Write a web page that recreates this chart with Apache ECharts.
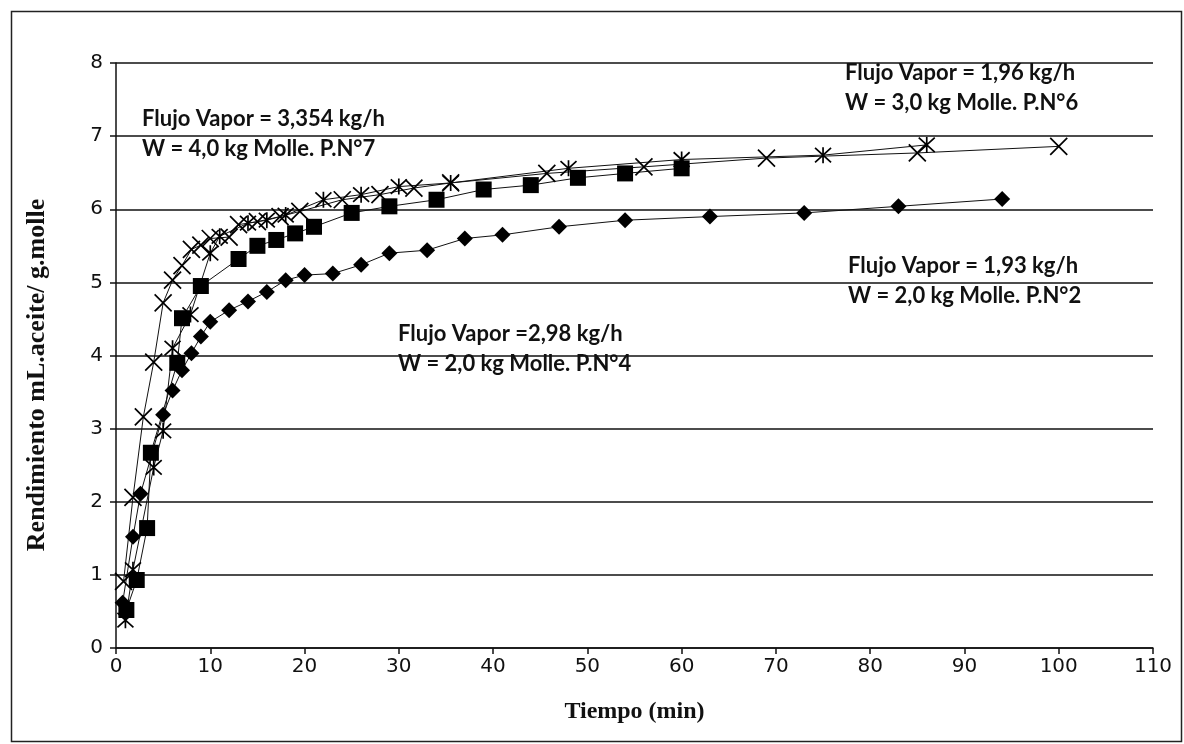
<!DOCTYPE html>
<html>
<head>
<meta charset="utf-8">
<script src="https://cdn.jsdelivr.net/npm/echarts@6/dist/echarts.min.js"></script>
<style>
  html, body { margin: 0; padding: 0; background: #fff; }
  #chart { width: 1184px; height: 744px; }
</style>
</head>
<body>
<div id="chart"></div>
<script>
// Rendimiento de aceite de molle frente al tiempo de destilación

// P.N°4 (rombos)
const tiempoPN4 = [0.7, 1.8, 2.6, 5, 6, 7, 8, 9, 10, 12, 14, 16, 18, 20, 23, 26, 29, 33, 37, 41, 47, 54, 63, 73, 83, 94];
const rendPN4   = [0.62, 1.52, 2.11, 3.19, 3.52, 3.8, 4.03, 4.26, 4.46, 4.62, 4.74, 4.87, 5.03, 5.1, 5.12, 5.24, 5.4, 5.44, 5.6, 5.65, 5.76, 5.85, 5.9, 5.95, 6.04, 6.14];

// P.N°2 (cuadrados)
const tiempoPN2 = [1.1, 2.2, 3.3, 3.7, 6.5, 7, 9, 13, 15, 17, 19, 21, 25, 29, 34, 39, 44, 49, 54, 60];
const rendPN2   = [0.52, 0.93, 1.64, 2.67, 3.9, 4.51, 4.95, 5.32, 5.5, 5.58, 5.67, 5.76, 5.95, 6.04, 6.13, 6.27, 6.33, 6.43, 6.49, 6.56];

// P.N°7 (aspas)
const tiempoPN7 = [0.8, 1.8, 2.9, 4, 5, 6, 7, 8, 9, 10, 12, 13, 15, 17.4, 19.5, 24, 28, 31.6, 35.5, 45.7, 56, 69, 85, 100];
const rendPN7   = [0.91, 2.06, 3.16, 3.91, 4.72, 5.03, 5.23, 5.45, 5.51, 5.6, 5.62, 5.79, 5.83, 5.9, 5.97, 6.13, 6.2, 6.29, 6.36, 6.49, 6.58, 6.7, 6.77, 6.86];

// P.N°6 (asteriscos)
const tiempoPN6 = [1, 1.8, 4, 5, 6, 7.9, 10, 11, 14, 16, 18, 22, 26, 30, 35.5, 48, 60, 75, 86];
const rendPN6   = [0.38, 1.07, 2.47, 2.97, 4.1, 4.56, 5.4, 5.63, 5.81, 5.85, 5.92, 6.13, 6.2, 6.31, 6.36, 6.56, 6.68, 6.74, 6.88];

// Marcas de los ejes
const ticksX = [0, 10, 20, 30, 40, 50, 60, 70, 80, 90, 100, 110];
const ticksY = [0, 1, 2, 3, 4, 5, 6, 7, 8];

// Títulos de los ejes
const tituloX = 'Tiempo (min)';
const tituloY = 'Rendimiento mL.aceite/ g.molle';

// Rótulos de cada ensayo
const rotulos = [
  { linea1: 'Flujo Vapor = 3,354 kg/h', linea2: 'W = 4,0 kg Molle. P.N°7', x: 142, y: 120 },
  { linea1: 'Flujo Vapor = 1,96 kg/h',  linea2: 'W = 3,0 kg Molle. P.N°6', x: 845, y: 74 },
  { linea1: 'Flujo Vapor = 1,93 kg/h',  linea2: 'W = 2,0 kg Molle. P.N°2', x: 848, y: 267 },
  { linea1: 'Flujo Vapor =2,98 kg/h',   linea2: 'W = 2,0 kg Molle. P.N°4', x: 398, y: 335 }
];

const pares = (xs, ys) => xs.map((x, i) => [x, ys[i]]);

const SYM_X = 'path://M0,0L20,20M20,0L0,20';
const SYM_AST = 'path://M0,0L20,20M20,0L0,20M10,-1L10,21';

const chart = echarts.init(document.getElementById('chart'), null, { renderer: 'canvas' });

function serie(nombre, datos, simbolo, tam, trazo) {
  return {
    name: nombre,
    type: 'line',
    data: datos,
    symbol: simbolo,
    symbolSize: tam,
    showAllSymbol: true,
    lineStyle: { color: '#111', width: 1 },
    itemStyle: trazo
      ? { color: 'rgba(0,0,0,0)', borderColor: '#000', borderWidth: 1.7 }
      : { color: '#000', borderColor: '#000', borderWidth: 0 },
    emphasis: { disabled: true },
    animation: false,
    z: 3
  };
}

const textos = [];
rotulos.forEach(r => {
  textos.push({
    type: 'text', left: r.x, top: r.y - 12,
    style: { text: r.linea1, font: 'bold 22px Lato', fill: '#111' }, z: 10
  });
  textos.push({
    type: 'text', left: r.x, top: r.y + 18,
    style: { text: r.linea2, font: 'bold 22px Lato', fill: '#111' }, z: 10
  });
});

// Título vertical del eje Y, centrado algo más abajo que el eje
textos.push({
  type: 'text', x: 37, y: 375, rotation: Math.PI / 2,
  style: {
    text: tituloY, font: 'bold 26px "Liberation Serif"', fill: '#111',
    align: 'center', verticalAlign: 'middle'
  },
  z: 10
});

chart.setOption({
  backgroundColor: '#fff',
  animation: false,
  grid: { left: 116, right: 31, top: 63, bottom: 96, containLabel: false },
  xAxis: {
    type: 'value',
    min: ticksX[0], max: ticksX[ticksX.length - 1], interval: 10,
    name: tituloX, nameLocation: 'middle', nameGap: 52,
    nameTextStyle: { fontFamily: 'Liberation Serif', fontWeight: 'bold', fontSize: 24, color: '#111' },
    axisLine: { show: true, onZero: false, lineStyle: { color: '#111', width: 1.5 } },
    axisTick: { show: true, inside: false, length: 6, lineStyle: { color: '#111', width: 1.5 } },
    axisLabel: { fontFamily: 'DejaVu Sans', fontSize: 20, color: '#111', margin: 9 },
    splitLine: { show: false }
  },
  yAxis: {
    type: 'value',
    min: ticksY[0], max: ticksY[ticksY.length - 1], interval: 1,
    axisLine: { show: true, lineStyle: { color: '#111', width: 1.5 } },
    axisTick: { show: true, inside: false, length: 6, lineStyle: { color: '#111', width: 1.5 } },
    axisLabel: { fontFamily: 'DejaVu Sans', fontSize: 20, color: '#111', margin: 13 },
    splitLine: { show: true, lineStyle: { color: '#111', width: 1.5 } }
  },
  graphic: [
    {
      type: 'rect', left: 9, top: 9, silent: true,
      shape: { width: 1170, height: 730 },
      style: { fill: 'none', stroke: '#222', lineWidth: 1.5 }, z: -1
    }
  ].concat(textos),
  series: [
    serie('P.N°4', pares(tiempoPN4, rendPN4), 'diamond', 16, false),
    serie('P.N°2', pares(tiempoPN2, rendPN2), 'rect', 16, false),
    serie('P.N°6', pares(tiempoPN6, rendPN6), SYM_AST, 16, true),
    serie('P.N°7', pares(tiempoPN7, rendPN7), SYM_X, 17, true)
  ]
});
</script>
</body>
</html>
